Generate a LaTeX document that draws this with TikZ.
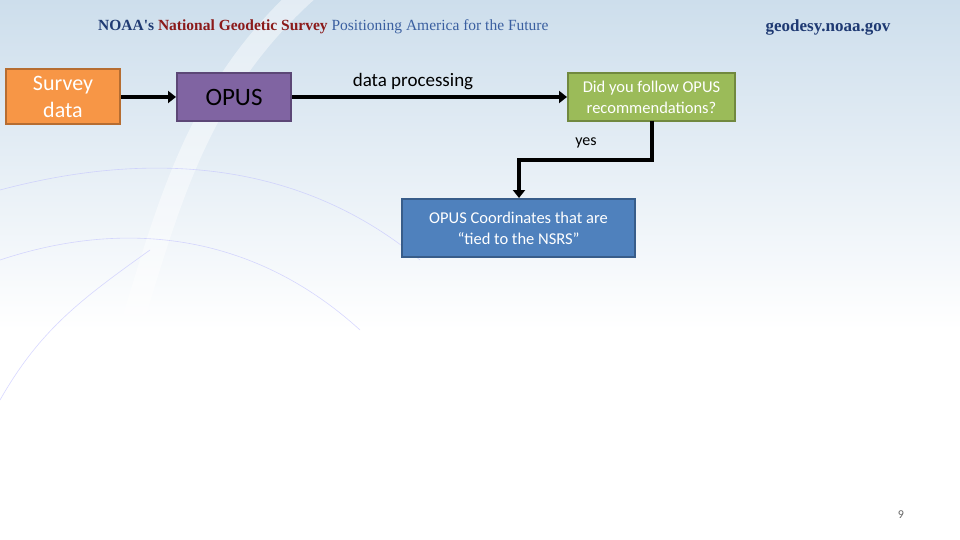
\documentclass[tikz,border=0pt]{standalone}
\usepackage{fontspec}
\setmainfont{Carlito}
\newfontfamily\serifnoaa{Liberation Serif}
\usetikzlibrary{arrows.meta}
\definecolor{nblue}{HTML}{1F3A73}
\definecolor{nred}{HTML}{8B1A1A}
\definecolor{nlight}{HTML}{3A5FA0}
\begin{document}
\begin{tikzpicture}[x=1pt,y=-1pt,
 box/.style={draw,line width=2pt,minimum height=#1,align=center,inner sep=1pt},
 conn/.style={line width=4pt,-{Triangle[length=8pt,width=12pt]}}]
\useasboundingbox (0,0) rectangle (960,540);
\shade[top color={rgb,255:red,205;green,222;blue,236},bottom color=white] (0,0) rectangle (960,330);
\fill[white] (0,330) rectangle (960,540);
\draw[white,line width=22pt,opacity=0.45] (320,-20) .. controls (200,80) and (170,200) .. (130,330);
\draw[blue!25,line width=0.6pt,opacity=0.6] (0,190) .. controls (150,150) and (300,160) .. (420,260);
\draw[blue!25,line width=0.6pt,opacity=0.6] (0,260) .. controls (120,220) and (250,230) .. (360,330);
\draw[blue!25,line width=0.6pt,opacity=0.6] (0,400) .. controls (40,330) and (80,300) .. (150,250);
\node[font=\serifnoaa\bfseries\fontsize{15.5}{17}\selectfont,anchor=west,inner sep=0] (hdr) at (98,27)
 {\textcolor{nblue}{NOAA's} \textcolor{nred}{National Geodetic Survey} \textcolor{nlight}{\mdseries Positioning America for the Future}};
\node[font=\serifnoaa\bfseries\fontsize{17}{19}\selectfont,text=nblue,inner sep=0] (web) at (828,27) {geodesy.noaa.gov};
\node[box=55pt,minimum width=114pt,fill={rgb,255:red,247;green,150;blue,70},draw={rgb,255:red,182;green,109;blue,49},text=white,font=\fontsize{22}{27}\selectfont] (sd) at (63,97) {Survey\\data};
\node[box=48pt,minimum width=114pt,fill={rgb,255:red,128;green,100;blue,162},draw={rgb,255:red,92;green,71;blue,118},font=\fontsize{25}{28}\selectfont] (op) at (234,97) {OPUS};
\node[box=48pt,minimum width=167pt,fill={rgb,255:red,155;green,187;blue,89},draw={rgb,255:red,113;green,137;blue,63},text=white,font=\fontsize{16.5}{21}\selectfont] (q) at (651.5,97) {Did you follow OPUS\\recommendations?};
\node[box=58pt,minimum width=233pt,fill={rgb,255:red,79;green,129;blue,189},draw={rgb,255:red,56;green,93;blue,138},text=white,font=\fontsize{16.5}{21}\selectfont] (c) at (518.5,228) {OPUS Coordinates that are\\``tied to the NSRS''};
\draw[conn] (sd.east) -- (op.west);
\draw[conn] (op.east) -- (q.west);
\node[font=\fontsize{19}{21}\selectfont] (dp) at (413,82) {data processing};
\coordinate (b1) at (652,160);
\coordinate (b2) at (519,160);
\draw[conn] (652,121) -- (b1) -- (b2) -- (c.north-|b2);
\node[font=\fontsize{16}{18}\selectfont] (yes) at (586,143) {yes};
\node[font=\fontsize{12}{14}\selectfont,text=gray!80!black] (pg) at (901,515) {9};
\end{tikzpicture}
\end{document}
